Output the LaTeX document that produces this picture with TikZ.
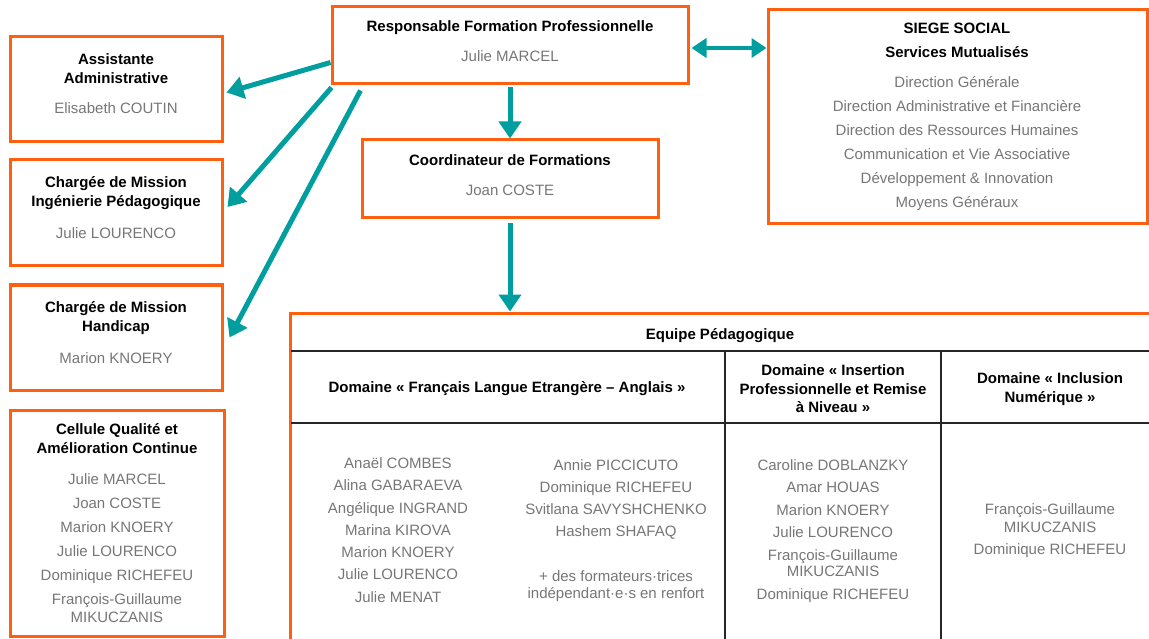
\documentclass[tikz,border=0pt]{standalone}
\usepackage{fontspec}
\setmainfont{Liberation Sans}
\usetikzlibrary{arrows.meta}
\definecolor{orangebox}{RGB}{255,96,16}
\definecolor{tealarrow}{RGB}{0,158,158}
\definecolor{greytext}{RGB}{118,118,118}
\tikzset{
	box/.style={draw=orangebox,line width=3pt,inner sep=0pt},
	title/.style={font=\fontsize{15}{18.5}\selectfont\bfseries,align=center},
	person/.style={font=\fontsize{15}{24}\selectfont,text=greytext,align=center},
	link/.style={draw=tealarrow,line width=5pt,-{Triangle[width=22pt,length=17pt]}},
	rule/.style={draw=black!85,line width=1.2pt}
}
\begin{document}
\begin{tikzpicture}[x=1pt,y=-1pt]
		\useasboundingbox(0,0)rectangle(1149,639);
		\clip(0,0)rectangle(1149,639);
		% boxes
		\node[box,minimum width=356,minimum height=77](resp)at(510,45.5){};
		\node[box,minimum width=212,minimum height=105](assist)at(116,89.5){};
		\node[box,minimum width=212,minimum height=106](ingen)at(116,213){};
		\node[box,minimum width=212,minimum height=105](handi)at(116,337.5){};
		\node[box,minimum width=214,minimum height=226](qualite)at(117,523){};
		\node[box,minimum width=296,minimum height=78](coord)at(510,179){};
		\node[box,minimum width=379,minimum height=214](siege)at(957.5,117){};
		\node[box,minimum width=862,minimum height=332](equipe)at(721,479){};
		% texts
		\node[title](resptitle)at(510,27.5){Responsable Formation Professionnelle};
		\node[person](respname)at(510,56.5){Julie MARCEL};
		\node[title](assisttitle)at(116,68.5){Assistante\\Administrative};
		\node[person](assistname)at(116,108.5){Elisabeth COUTIN};
		\node[title](ingentitle)at(116,193){Chargée de Mission\\Ingénierie Pédagogique};
		\node[person](ingenname)at(116,233.5){Julie LOURENCO};
		\node[title](handititle)at(116,318){Chargée de Mission\\Handicap};
		\node[person](handiname)at(116,358.5){Marion KNOERY};
		\node[title](qualitetitle)at(117,438.5){Cellule Qualité et\\Amélioration Continue};
		\node[person](qualitenames)at(117,548){Julie MARCEL\\Joan COSTE\\Marion KNOERY\\Julie LOURENCO\\Dominique RICHEFEU\\François-Guillaume\\[-6pt]MIKUCZANIS};
		\node[title](coordtitle)at(510,160){Coordinateur de Formations};
		\node[person](coordname)at(510,190.5){Joan COSTE};
		\node[title,font=\fontsize{15}{24}\selectfont\bfseries](siegetitle)at(957,40){SIEGE SOCIAL\\Services Mutualisés};
		\node[person](siegenames)at(957,143.5){Direction Générale\\Direction Administrative et Financière\\Direction des Ressources Humaines\\Communication et Vie Associative\\Développement \& Innovation\\Moyens Généraux};
		% equipe pedagogique
		\draw[rule](291,351)--(1149,351);
		\draw[rule](291,423)--(1149,423);
		\draw[rule](725,351)--(725,639);
		\draw[rule](941,351)--(941,639);
		\node[title](equipetitle)at(720,335.5){Equipe Pédagogique};
		\node[title](fletitle)at(507,389){Domaine « Français Langue Etrangère – Anglais »};
		\node[title](iprtitle)at(833,389){Domaine « Insertion\\Professionnelle et Remise\\à Niveau »};
		\node[title](numtitle)at(1050,389){Domaine « Inclusion\\Numérique »};
		\node[person,font=\fontsize{15}{22.3}\selectfont](flenamesa)at(398,530){Anaël COMBES\\Alina GABARAEVA\\Angélique INGRAND\\Marina KIROVA\\Marion KNOERY\\Julie LOURENCO\\Julie MENAT};
		\node[person,font=\fontsize{15}{22}\selectfont](flenamesb)at(616,531){Annie PICCICUTO\\Dominique RICHEFEU\\Svitlana SAVYSHCHENKO\\Hashem SHAFAQ\\[23pt]+ des formateurs·trices\\[-5pt]indépendant·e·s en renfort};
		\node[person,font=\fontsize{15}{22.5}\selectfont](iprnames)at(833,531){Caroline DOBLANZKY\\Amar HOUAS\\Marion KNOERY\\Julie LOURENCO\\François-Guillaume\\[-6pt]MIKUCZANIS\\Dominique RICHEFEU};
		\node[person,font=\fontsize{15}{20}\selectfont](numnames)at(1050,530.5){François-Guillaume\\[-2pt]MIKUCZANIS\\[2pt]Dominique RICHEFEU};
		% connectors
		\draw[link]([yshift=-17pt]resp.west)--([yshift=-3pt,xshift=3pt]assist.east);
		\draw[link]([xshift=1pt,yshift=-2pt]resp.south west)--([yshift=6pt,xshift=4pt]ingen.east);
		\draw[link]([xshift=30pt,yshift=-5pt]resp.south west)--([xshift=6pt]handi.east);
		\draw[link]([yshift=-2pt]resp.south)--(coord.north);
		\draw[link]([yshift=-4pt]coord.south)--(equipe.north-|coord.south);
		\draw[link,line width=4.5pt,{Triangle[width=19pt,length=15pt]}-{Triangle[width=19pt,length=15pt]}]([xshift=2pt,yshift=-2.5pt]resp.east)--([yshift=-2.5pt]resp.east-|siege.west);
	    \end{tikzpicture}
\end{document}
